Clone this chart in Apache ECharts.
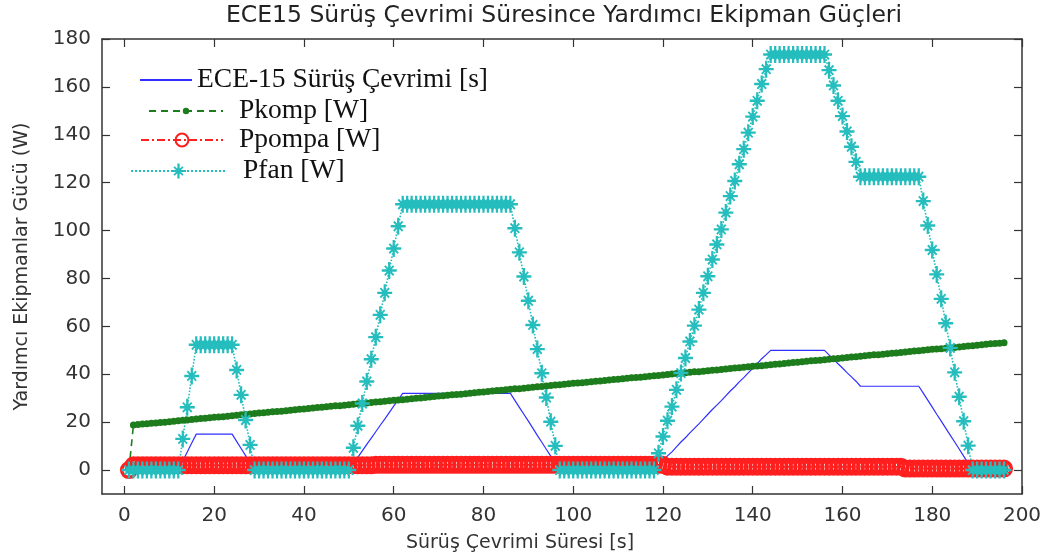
<!DOCTYPE html>
<html>
<head>
<meta charset="utf-8">
<script src="https://cdn.jsdelivr.net/npm/echarts@6/dist/echarts.min.js"></script>
<style>
  html, body { margin: 0; padding: 0; background: #fff; }
  #chart { width: 1052px; height: 559px; }
</style>
</head>
<body>
<div id="chart"></div>
<script>
// Time axis of the ECE-15 cycle, one sample per second (1 ... 196 s)
const timeStart = 1;

// ECE-15 drive cycle speed trace
const ece15 = [
  0, 0, 0, 0, 0, 0, 0, 0, 0, 0, 0, 0,
  3.75, 7.5, 11.3, 15,
  15, 15, 15, 15, 15, 15, 15, 15,
  12, 9, 6, 3, 0,
  0, 0, 0, 0, 0, 0, 0, 0, 0, 0, 0, 0, 0, 0, 0, 0, 0, 0, 0, 0, 0,
  2.7, 5.3, 8, 10.7, 13.3, 16, 18.7, 21.3, 24, 26.7, 29.3, 32,
  32, 32, 32, 32, 32, 32, 32, 32, 32, 32, 32, 32, 32, 32, 32, 32, 32, 32, 32, 32, 32, 32, 32, 32,
  29.1, 26.2, 23.3, 20.4, 17.5, 14.5, 11.6, 8.7, 5.8, 2.9, 0,
  0, 0, 0, 0, 0, 0, 0, 0, 0, 0, 0, 0, 0, 0, 0, 0, 0, 0, 0, 0, 0,
  2, 4, 5.9, 7.6, 9.7, 11.7, 13.5, 15.5, 17.4, 19.3, 21.3, 23.3, 25.3, 27.1, 29, 31, 33, 34.8, 36.8, 38.6, 40.6, 42.5, 44.4, 46.5, 48.2, 50,
  50, 50, 50, 50, 50, 50, 50, 50, 50, 50, 50, 50,
  48.1, 46.3, 44.4, 42.6, 40.7, 38.9, 37.1, 35,
  35, 35, 35, 35, 35, 35, 35, 35, 35, 35, 35, 35, 35,
  32.1, 29.2, 26.3, 23.3, 20.4, 17.5, 14.6, 11.7, 8.8, 5.8, 2.9, 0,
  0, 0, 0, 0, 0, 0, 0
];

// Compressor power [W]
const pKomp = [
  0,
  18.8, 19.0, 19.2, 19.3, 19.5, 19.7, 19.9, 20.0, 20.2, 20.4,
  20.6, 20.8, 20.9, 21.1, 21.3, 21.5, 21.6, 21.8, 22.0, 22.2,
  22.3, 22.5, 22.7, 22.9, 23.1, 23.2, 23.4, 23.6, 23.8, 23.9,
  24.1, 24.3, 24.5, 24.6, 24.8, 25.0, 25.2, 25.4, 25.5, 25.7,
  25.9, 26.1, 26.2, 26.4, 26.6, 26.8, 26.9, 27.1, 27.3, 27.5,
  27.7, 27.8, 28.0, 28.2, 28.4, 28.5, 28.7, 28.9, 29.1, 29.3,
  29.4, 29.6, 29.8, 30.0, 30.1, 30.3, 30.5, 30.7, 30.9, 31.0,
  31.2, 31.4, 31.6, 31.7, 31.9, 32.1, 32.3, 32.5, 32.6, 32.8,
  33.0, 33.2, 33.3, 33.5, 33.7, 33.9, 34.0, 34.2, 34.4, 34.6,
  34.8, 34.9, 35.1, 35.3, 35.5, 35.6, 35.8, 36.0, 36.2, 36.4,
  36.5, 36.7, 36.9, 37.1, 37.2, 37.4, 37.6, 37.8, 37.9, 38.1,
  38.3, 38.5, 38.7, 38.8, 39.0, 39.2, 39.4, 39.5, 39.7, 39.9,
  40.1, 40.3, 40.4, 40.6, 40.8, 41.0, 41.1, 41.3, 41.5, 41.7,
  41.8, 42.0, 42.2, 42.4, 42.6, 42.7, 42.9, 43.1, 43.3, 43.4,
  43.6, 43.8, 44.0, 44.2, 44.3, 44.5, 44.7, 44.9, 45.0, 45.2,
  45.4, 45.6, 45.7, 45.9, 46.1, 46.3, 46.5, 46.6, 46.8, 47.0,
  47.2, 47.3, 47.5, 47.7, 47.9, 48.1, 48.2, 48.4, 48.6, 48.8,
  48.9, 49.1, 49.3, 49.5, 49.7, 49.8, 50.0, 50.2, 50.4, 50.5,
  50.7, 50.9, 51.1, 51.2, 51.4, 51.6, 51.8, 51.9, 52.1, 52.3,
  52.5, 52.7, 52.8, 53.0, 53.2
];

// Pump power [W]
const pPompa = [
  0,
  2.0, 2.0, 2.0, 2.0, 2.0, 2.0, 2.0, 2.0, 2.0, 2.0, 2.0, 2.0, 2.0, 2.0, 2.0, 2.0, 2.0, 2.0,
  2.0, 2.0, 2.0, 2.0, 2.0, 2.0, 2.0, 2.0, 2.0, 2.0, 2.0, 2.0, 2.0, 2.0, 2.0, 2.0, 2.0, 2.0,
  2.0, 2.0, 2.0, 2.0, 2.0, 2.0, 2.0, 2.0, 2.0, 2.0, 2.0, 2.0, 2.0, 2.0, 2.0, 2.0, 2.0, 2.0,
  2.2, 2.2, 2.2, 2.2, 2.2, 2.2, 2.2, 2.2, 2.2, 2.2, 2.2, 2.2, 2.2, 2.2, 2.2, 2.2, 2.2, 2.2,
  2.2, 2.2, 2.2, 2.2, 2.2, 2.2, 2.2, 2.2, 2.2, 2.2, 2.2, 2.2, 2.2, 2.2, 2.2, 2.2, 2.2, 2.2,
  2.2, 2.2, 2.2, 2.2, 2.2, 2.2, 2.2, 2.2, 2.2, 2.2, 2.2, 2.2, 2.2, 2.2, 2.2, 2.2, 2.2, 2.2,
  2.2, 2.2, 2.2, 2.2, 2.2, 2.2, 2.2, 2.2, 2.2, 2.2, 2.2,
  1.4, 1.4, 1.4, 1.4, 1.4, 1.4, 1.4, 1.4, 1.4, 1.4, 1.4, 1.4, 1.4, 1.4, 1.4, 1.4, 1.4, 1.4,
  1.4, 1.4, 1.4, 1.4, 1.4, 1.4, 1.4, 1.4, 1.4, 1.4, 1.4, 1.4, 1.4, 1.4, 1.4, 1.4, 1.4, 1.4,
  1.4, 1.4, 1.4, 1.4, 1.4, 1.4, 1.4, 1.4, 1.4, 1.4, 1.4, 1.4, 1.4, 1.4, 1.4, 1.4, 1.4,
  0.6, 0.6, 0.6, 0.6, 0.6, 0.6, 0.6, 0.6, 0.6, 0.6, 0.6, 0.6, 0.6, 0.6, 0.6, 0.6, 0.6, 0.6,
  0.6, 0.6, 0.6, 0.6, 0.6
];

// Fan power [W]
const pFan = [
  0, 0, 0, 0, 0, 0, 0, 0, 0, 0, 0, 0,
  13, 26.2, 39.3, 52.3,
  52.3, 52.3, 52.3, 52.3, 52.3, 52.3, 52.3, 52.3,
  41.8, 31.4, 20.9, 10.5, 0,
  0, 0, 0, 0, 0, 0, 0, 0, 0, 0, 0, 0, 0, 0, 0, 0, 0, 0, 0, 0, 0,
  9.3, 18.5, 27.8, 37, 46.3, 55.5, 64.8, 74, 83.3, 92.5, 101.8, 111,
  111, 111, 111, 111, 111, 111, 111, 111, 111, 111, 111, 111, 111, 111, 111, 111, 111, 111, 111, 111, 111, 111, 111, 111,
  101, 90.9, 80.8, 70.7, 60.6, 50.5, 40.4, 30.3, 20.2, 10.1, 0,
  0, 0, 0, 0, 0, 0, 0, 0, 0, 0, 0, 0, 0, 0, 0, 0, 0, 0, 0, 0, 0,
  7, 14, 20.6, 26.5, 33.5, 40.5, 46.8, 53.7, 60.3, 67, 74, 80.9, 87.9, 94.2, 100.5, 107.5, 114.4, 120.7, 127.7, 134, 140.9, 147.6, 154.2, 161.2, 167.4, 173.5,
  173.5, 173.5, 173.5, 173.5, 173.5, 173.5, 173.5, 173.5, 173.5, 173.5, 173.5, 173.5,
  167, 160.6, 154.2, 147.8, 141.4, 135, 128.7, 122.5,
  122.5, 122.5, 122.5, 122.5, 122.5, 122.5, 122.5, 122.5, 122.5, 122.5, 122.5, 122.5, 122.5,
  112.3, 102.1, 91.9, 81.7, 71.5, 61.3, 51, 40.8, 30.6, 20.4, 10.2, 0,
  0, 0, 0, 0, 0, 0, 0
];

// Axis ticks
const xTicks = [0, 20, 40, 60, 80, 100, 120, 140, 160, 180, 200];
const yTicks = [0, 20, 40, 60, 80, 100, 120, 140, 160, 180];

const seriesNames = ['ECE-15 Sürüş Çevrimi [s]', 'Pkomp [W]', 'Ppompa [W]', 'Pfan [W]'];

function pairs(values) {
  return values.map(function (v, i) { return [timeStart + i, v]; });
}

// Eight-armed asterisk marker with a heavy centre
const asterisk = 'path://M-1.2,-8.5 L1.2,-8.5 L1.2,-1.2 L8,-1.2 L8,1.2 L1.2,1.2 L1.2,8.5 L-1.2,8.5 L-1.2,1.2 L-8,1.2 L-8,-1.2 L-1.2,-1.2 Z ' +
  'M-5.4,-4 L-4,-5.4 L5.4,4 L4,5.4 Z M4,-5.4 L5.4,-4 L-4,5.4 L-5.4,4 Z ' +
  'M-3,-3 L3,-3 L3,3 L-3,3 Z';

const tickFont = { fontFamily: 'DejaVu Sans', fontSize: 20, color: '#333' };
const frameLine = { show: true, onZero: false, lineStyle: { color: '#333', width: 1.5 } };
const frameTick = { show: true, inside: true, length: 8, lineStyle: { color: '#333', width: 1.2 } };

const legendText = { fontFamily: 'Liberation Serif', fontSize: 27.5, color: '#111' };

const chart = echarts.init(document.getElementById('chart'), null, { renderer: 'canvas' });

chart.setOption({
  animation: false,
  backgroundColor: '#fff',
  title: {
    text: 'ECE15 Sürüş Çevrimi Süresince Yardımcı Ekipman Güçleri',
    left: 564,
    textAlign: 'center',
    top: 2,
    padding: [2, 0, 2, 0],
    textStyle: { fontFamily: 'DejaVu Sans', fontSize: 23.5, fontWeight: 'normal', color: '#222' }
  },
  grid: { left: 102, right: 30, top: 39, bottom: 65, containLabel: false },
  legend: [
    { data: [{ name: seriesNames[0], icon: 'rect' }], left: 140, top: 66, padding: 0, itemWidth: 52, itemHeight: 2,
      textStyle: legendText, selectedMode: false },
    { data: [seriesNames[1]], left: 148, top: 97, padding: 0, itemWidth: 74, itemHeight: 8,
      textStyle: Object.assign({ padding: [0, 0, 0, 11] }, legendText), selectedMode: false },
    { data: [seriesNames[2]], left: 140, top: 126, padding: 0, itemWidth: 82, itemHeight: 16,
      textStyle: Object.assign({ padding: [0, 0, 0, 11] }, legendText), selectedMode: false },
    { data: [seriesNames[3]], left: 130, top: 157, padding: 0, itemWidth: 95, itemHeight: 19,
      textStyle: Object.assign({ padding: [0, 0, 0, 12] }, legendText), selectedMode: false }
  ],
  xAxis: [
    {
      type: 'value', min: -5, max: 200, position: 'bottom',
      name: 'Sürüş Çevrimi Süresi [s]', nameLocation: 'middle', nameGap: 40,
      nameTextStyle: { fontFamily: 'DejaVu Sans', fontSize: 19, color: '#333', padding: [0, 84, 0, 0] },
      axisLine: frameLine,
      axisTick: Object.assign({ customValues: xTicks }, frameTick),
      axisLabel: Object.assign({ customValues: xTicks, margin: 12 }, tickFont),
      splitLine: { show: false }
    },
    {
      type: 'value', min: -5, max: 200, position: 'top',
      axisLine: frameLine,
      axisTick: Object.assign({ customValues: xTicks }, frameTick),
      axisLabel: { show: false },
      splitLine: { show: false }
    }
  ],
  yAxis: [
    {
      type: 'value', min: -10, max: 180, position: 'left',
      name: 'Yardımcı Ekipmanlar Gücü (W)', nameLocation: 'middle', nameGap: 70, nameRotate: 90,
      nameTextStyle: { fontFamily: 'DejaVu Sans', fontSize: 19, color: '#333' },
      axisLine: frameLine,
      axisTick: Object.assign({ customValues: yTicks }, frameTick),
      axisLabel: Object.assign({ customValues: yTicks, margin: 11 }, tickFont),
      splitLine: { show: false }
    },
    {
      type: 'value', min: -10, max: 180, position: 'right',
      axisLine: frameLine,
      axisTick: Object.assign({ customValues: yTicks }, frameTick),
      axisLabel: { show: false },
      splitLine: { show: false }
    }
  ],
  series: [
    {
      name: seriesNames[0], type: 'line', data: pairs(ece15),
      showSymbol: false,
      lineStyle: { color: '#2f2fff', width: 1.2 },
      itemStyle: { color: '#2f2fff' }
    },
    {
      name: seriesNames[1], type: 'line', data: pairs(pKomp),
      symbol: 'circle', symbolSize: 7, showAllSymbol: true,
      lineStyle: { color: '#1d7d1d', width: 1.6, type: [7, 5] },
      itemStyle: { color: '#1d7d1d' }
    },
    {
      // open circle markers (stroke only) so neighbouring rings merge into a band
      name: seriesNames[2], type: 'line', data: pairs(pPompa),
      symbol: 'circle', symbolSize: 14.5, showAllSymbol: true,
      lineStyle: { color: '#ff1f1f', width: 1.6, type: [8, 3, 2, 3] },
      itemStyle: { color: 'rgba(255,255,255,0)', borderColor: '#ff1f1f', borderWidth: 3.5 }
    },
    {
      name: seriesNames[3], type: 'line', data: pairs(pFan),
      symbol: asterisk, symbolSize: [15, 17], showAllSymbol: true,
      lineStyle: { color: '#25bdbd', width: 1.6, type: 'dotted' },
      itemStyle: { color: '#25bdbd' }
    }
  ]
});
</script>
</body>
</html>
